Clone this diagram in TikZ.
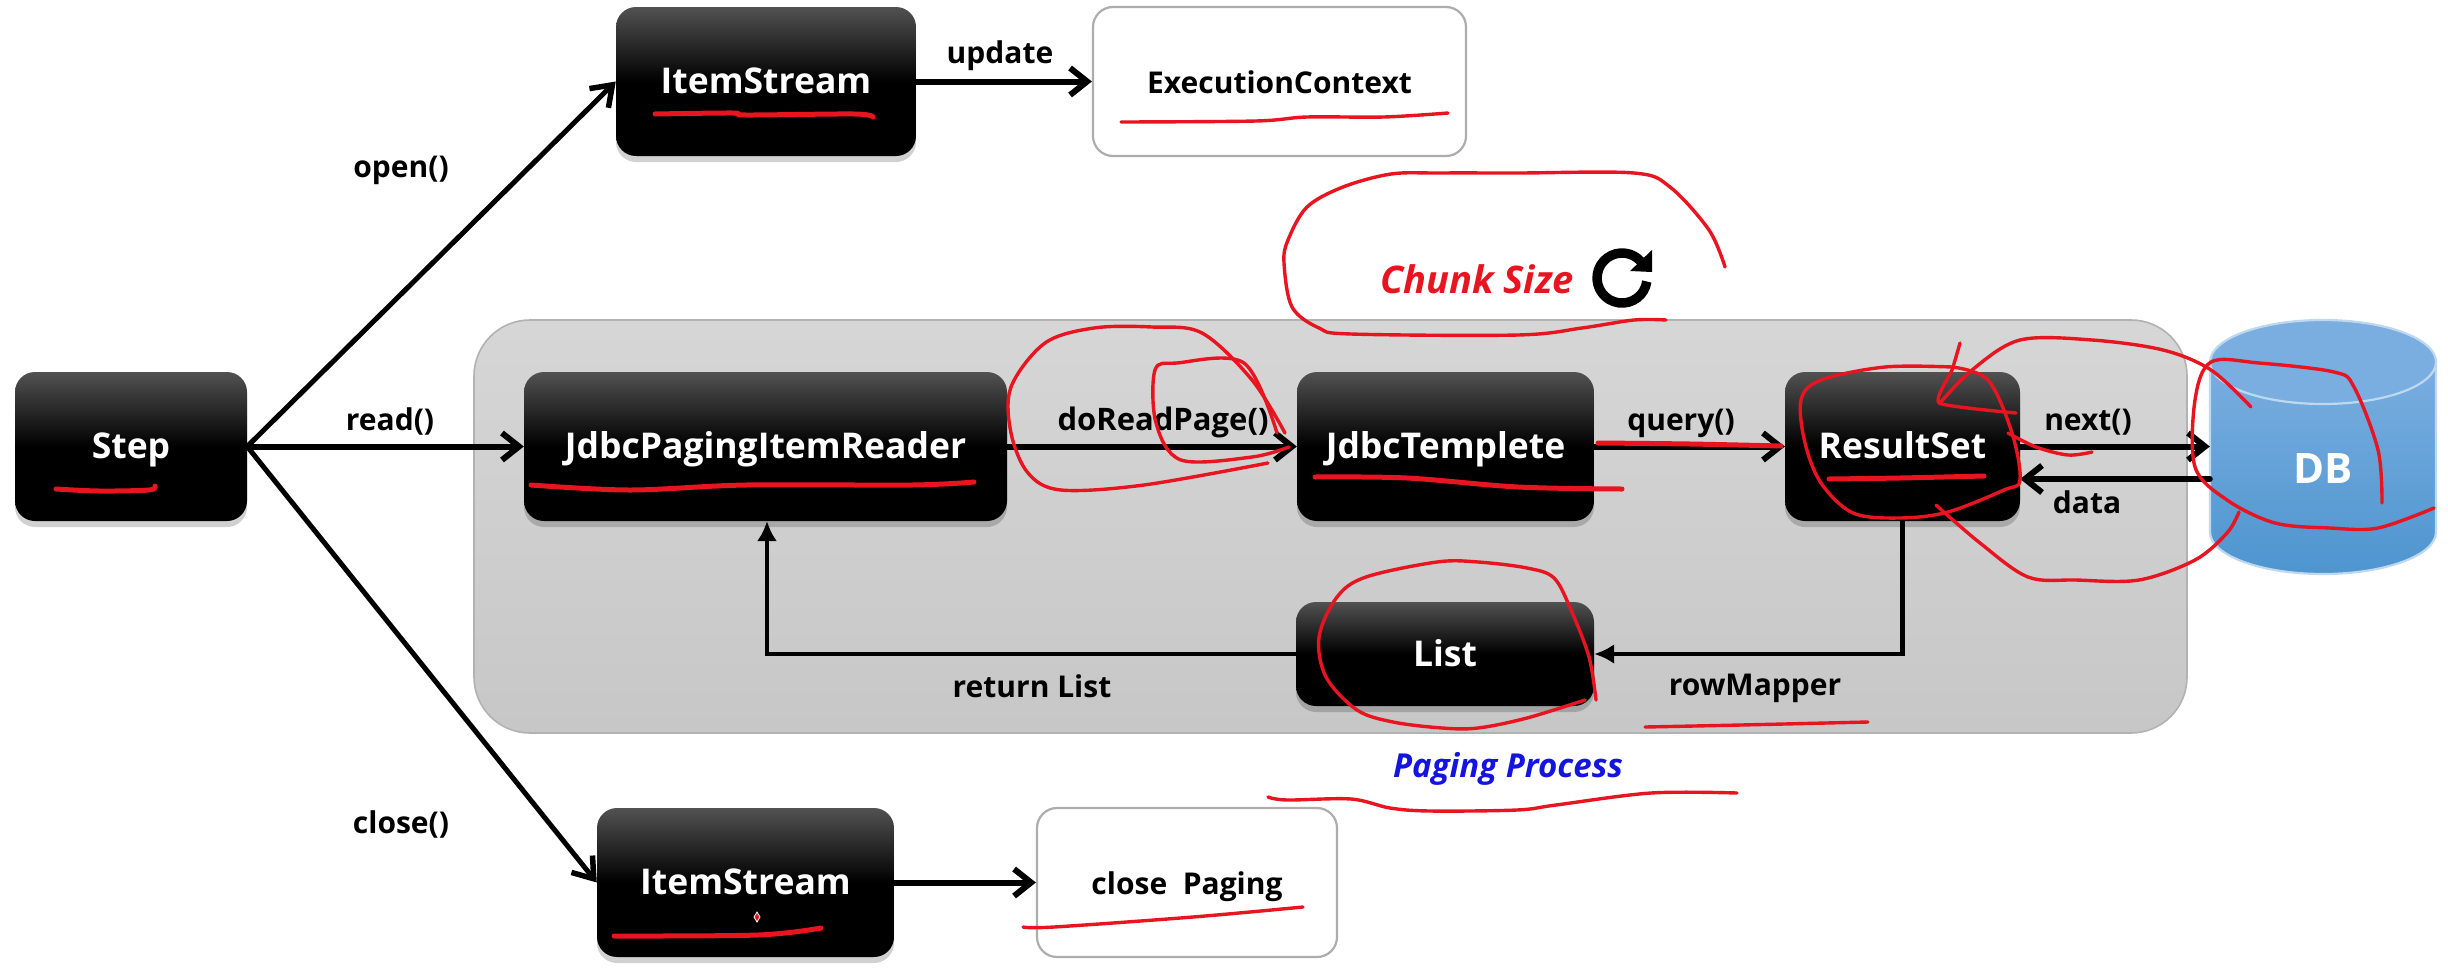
\documentclass[tikz,border=0pt]{standalone}
\usepackage{fontspec}
\setmainfont{Open Sans}
\usetikzlibrary{arrows.meta,shadows,calc}
\definecolor{inkred}{RGB}{232,20,32}
\definecolor{inkblue}{RGB}{20,20,225}
\definecolor{dbtop}{RGB}{122,174,224}
\definecolor{dbbottom}{RGB}{78,149,207}
\definecolor{dbedge}{RGB}{190,216,238}
\pgfdeclareverticalshading{boxshade}{100bp}{color(0bp)=(black); color(50bp)=(black); color(75bp)=(black!68!white); color(100bp)=(black!68!white)}
\tikzset{
  darkbox/.style={rounded corners=20pt,shading=boxshade,draw=none,text=white,font=\fontsize{35.5}{40}\selectfont\bfseries,inner sep=0pt,text height=30pt,text depth=6pt,
    drop shadow={shadow xshift=0pt,shadow yshift=-6pt,opacity=.18,fill=black}},
  whitebox/.style={rounded corners=20pt,draw=black!32,line width=2.2pt,fill=white,text=black,font=\fontsize{30}{34}\selectfont\bfseries,inner sep=0pt,text height=30pt,text depth=6pt},
  panelbox/.style={rounded corners=56pt,draw=black!30,line width=1.6pt,top color=black!16,bottom color=black!22,inner sep=0pt},
  lbl/.style={font=\fontsize{30}{34}\selectfont\bfseries,text=black,inner sep=0pt,anchor=base},
  flow/.style={line width=6pt,draw=black,line cap=round,-{Straight Barb[length=17pt,width=27pt,line width=6pt]}},
  diag/.style={line width=5pt,draw=black,line cap=round,-{Straight Barb[length=19pt,width=27pt,line width=5.5pt]}},
  thinflow/.style={line width=4.5pt,draw=black,-{Latex[length=20pt,width=20pt]}},
  ink/.style={draw=inkred,line width=3.4pt,line cap=round,line join=round},
  inkw/.style={draw=inkred,line width=5pt,line cap=round,line join=round},
}
\newcommand{\boxat}[7][darkbox]{\node[#1,minimum width=#6pt-#4pt,minimum height=#7pt-#5pt] (#2) at ({(#4+#6)/2},{(#5+#7)/2}) {#3};}
\begin{document}
\begin{tikzpicture}[x=1pt,y=-1pt]
\useasboundingbox (0,0) rectangle (2448,972);
\fill[white] (0,0) rectangle (2448,972);

\boxat[panelbox]{panel}{}{474}{320}{2187}{733}

% database
\node[minimum width=226pt,minimum height=254pt,inner sep=0pt] (db) at (2323,447) {};
\shade[top color=dbtop,bottom color=dbbottom]
  (2210,362) -- (2210,532) arc[x radius=113,y radius=-42,start angle=180,end angle=360] -- (2436,362) arc[x radius=113,y radius=42,start angle=0,end angle=180] -- cycle;
\fill[dbtop] (2323,362) ellipse[x radius=113,y radius=42];
\draw[dbedge,line width=2.2pt] (2210,362) -- (2210,532) arc[x radius=113,y radius=-42,start angle=180,end angle=360] -- (2436,362);
\draw[dbedge,line width=2.2pt] (2323,362) ellipse[x radius=113,y radius=42];
\node[text=white,font=\fontsize{42}{48}\selectfont\bfseries,inner sep=0pt] (dbtext) at (2323,469) {DB};

\boxat{step}{Step}{15}{372}{247}{521}
\boxat{reader}{JdbcPagingItemReader}{524}{372}{1007}{521}
\boxat{tmpl}{JdbcTemplete}{1297}{372}{1594}{521}
\boxat{rs}{ResultSet}{1785}{372}{2020}{521}
\boxat{list}{List}{1296}{602}{1594}{706}
\boxat{ist}{ItemStream}{616}{7}{916}{156}
\boxat{isb}{ItemStream}{597}{808}{894}{957}
\boxat[whitebox]{ctx}{ExecutionContext}{1093}{7}{1466}{156}
\boxat[whitebox]{cls}{close\ \ Paging}{1037}{808}{1337}{957}

% connectors
\draw[diag] (step.east) -- (ist.west);
\draw[diag] (step.east) -- (isb.west);
\draw[flow] (step.east) -- (reader.west);
\draw[flow] (reader.east) -- (tmpl.west);
\draw[flow] (tmpl.east) -- (rs.west);
\draw[flow] (rs.east) -- (rs.east-|db.west);
\coordinate (dataS) at (db.west|-0,479);
\coordinate (dataE) at (rs.east|-0,479);
\draw[flow] (dataS) -- (dataE);
\draw[flow] (ist.east) -- (ctx.west);
\draw[flow] (isb.east) -- (cls.west);
\draw[thinflow] (rs.south) |- (list.east);
\coordinate (retT) at (767,521);
\draw[thinflow] (list.west) -| (retT);

% labels
\node[lbl] (lopen) at (401,177) {open()};
\node[lbl] (lread) at (390,430) {read()};
\node[lbl] (lclose) at (401,833) {close()};
\node[lbl] (lupdate) at (1000,63) {update};
\node[lbl,font=\fontsize{31}{34}\selectfont\bfseries] (ldo) at (1163,430) {doReadPage()};
\node[lbl] (lquery) at (1681,430) {query()};
\node[lbl] (lnext) at (2088,430) {next()};
\node[lbl] (ldata) at (2087,513) {data};
\node[lbl] (lret) at (1032,697) {return List};
\node[lbl] (lrow) at (1755,695) {rowMapper};
\node[lbl,text=inkblue,font=\fontsize{33}{38}\selectfont\bfseries\itshape] (lpp) at (1508,777) {Paging Process};
\node[lbl,text=inkred,font=\fontsize{38}{42}\selectfont\bfseries\itshape] (lcs) at (1477,293) {Chunk Size};

% refresh symbol
\draw[line width=9.5pt,black] (1646.8,281.5) arc[radius=25,start angle=8,end angle=318];
\fill[black] (1652,250) -- (1652,272) -- (1630,271) -- cycle;

% hand-drawn ink
\draw[ink] plot[smooth,tension=.55] coordinates {(1725,267)(1709,230)(1670,187)(1634,173)(1518,173)(1439,173)(1391,174)(1343,187)(1307,207)(1288,240)(1284,263)(1292,307)(1319,328)(1351,334)(1518,335)(1582,328)(1634,320)(1666,320)};
\draw[ink] plot[smooth,tension=.3] coordinates {(1960,343)(1952,370)(1939,403)(2016,413)};
\draw[ink] plot[smooth,tension=.55] coordinates {(1940,403)(1972,370)(2020,340)(2092,340)(2163,350)(2211,370)(2251,407)};
\draw[ink] plot[smooth,tension=.55] coordinates {(1952,367)(1885,367)(1821,380)(1801,400)(1805,443)(1821,483)(1853,513)(1900,518)(1948,512)(2004,490)(2020,480)(2012,433)(1988,380)(1952,367)};
\draw[ink] plot[smooth,tension=.55] coordinates {(1936,505)(1980,543)(2028,577)(2076,580)(2139,580)(2195,560)(2227,533)(2239,512)};
\draw[ink] plot[smooth,tension=.55] coordinates {(2382,503)(2378,450)(2354,387)(2334,372)(2259,363)(2211,362)(2195,400)(2195,467)(2227,500)(2275,523)(2330,528)(2378,528)(2434,508)};
\draw[ink] plot[smooth,tension=.55] coordinates {(2008,433)(2036,447)(2068,455)(2092,452)};
\draw[inkw] plot[smooth,tension=.55] coordinates {(1598,443)(1690,444)(1781,446)};
\draw[inkw] plot[smooth,tension=.55] coordinates {(1315,477)(1407,478)(1518,487)(1622,489)};
\draw[inkw] plot[smooth,tension=.55] coordinates {(1829,479)(1900,478)(1984,476)};
\draw[ink] plot[smooth,tension=.55] coordinates {(1596,700)(1589,657)(1571,610)(1554,578)(1527,568)(1478,562)(1437,562)(1366,577)(1337,597)(1319,637)(1326,677)(1357,710)(1393,722)(1442,728)(1478,728)(1527,718)(1585,700)};
\draw[ink] plot[smooth,tension=.55] coordinates {(1645,727)(1741,725)(1868,722)};
\draw[ink] plot[smooth,tension=.55] coordinates {(1268,797)(1287,800)(1351,799)(1390,808)(1430,811)(1517,810)(1556,805)(1651,793)(1737,793)};
\draw[ink] plot[smooth,tension=.55] coordinates {(1023,927)(1054,927)(1193,917)(1303,907)};
\draw[inkw] plot[smooth,tension=.55] coordinates {(614,936)(758,935)(821,928)};
\draw[inkw] plot[smooth,tension=.55] coordinates {(655,114)(733,113)(746,115)(854,114)(873,117)};
\draw[ink] plot[smooth,tension=.55] coordinates {(1121,122)(1256,121)(1307,117)(1384,117)(1448,113)};
\draw[inkw] plot[smooth,tension=.55] coordinates {(56,489)(99,491)(149,490)(155,486)};
\draw[inkw] plot[smooth,tension=.55] coordinates {(531,485)(630,490)(746,485)(912,485)(974,482)};
\draw[ink] plot[smooth,tension=.55] coordinates {(1285,433)(1252,380)(1202,333)(1152,327)(1094,328)(1045,343)(1011,387)(1011,433)(1028,473)(1061,490)(1144,485)(1268,463)};
\draw[ink] plot[smooth,tension=.55] coordinates {(1277,433)(1244,363)(1177,363)(1155,370)(1156,423)(1181,460)(1252,457)(1289,447)};
\fill[inkred,draw=white,line width=.8pt] (757,912) -- (760,917) -- (757,922) -- (754,917) -- cycle;
\end{tikzpicture}
\end{document}
